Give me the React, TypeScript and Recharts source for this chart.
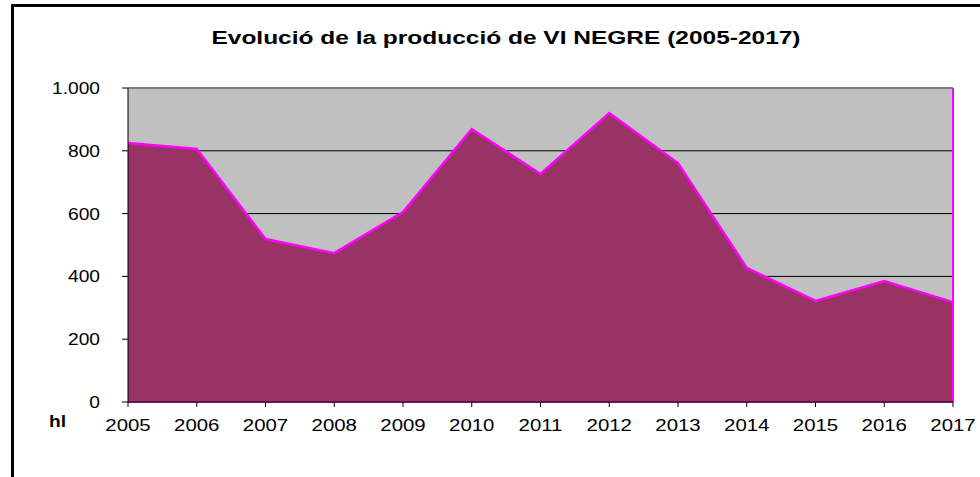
import React from "react"
import { AreaChart, Area, XAxis, YAxis, CartesianGrid, ReferenceLine } from "recharts"

const years = ["2005", "2006", "2007", "2008", "2009", "2010", "2011", "2012", "2013", "2014", "2015", "2016", "2017"]
const production = [825, 806, 519, 474, 605, 869, 726, 920, 761, 427, 322, 385, 318]
const yTicks = [0, 200, 400, 600, 800, 1000]

const chartTitle = "Evolució de la producció de VI NEGRE (2005-2017)"
const unitLabel = "hl"

const font = "'Liberation Sans', Arial, sans-serif"

// the original is stretched horizontally, so text gets scaled in x
const YTick = (props: any) => {
  const { x, y, payload } = props
  const label = payload.value >= 1000 ? payload.value.toLocaleString("de-DE") : String(payload.value)
  return (
    <text
      transform={`translate(${x},${y + 6}) scale(1.2,1)`}
      textAnchor="end"
      fontSize={16}
      fontFamily={font}
      fill="#000"
    >
      {label}
    </text>
  )
}

const XTick = (props: any) => {
  const { x, y, payload } = props
  return (
    <text
      transform={`translate(${x},${y + 22}) scale(1.2,1)`}
      textAnchor="middle"
      fontSize={17}
      fontFamily={font}
      fill="#000"
    >
      {payload.value}
    </text>
  )
}

export default function App() {
  const data = years.map((year, i) => ({ year, value: production[i] }))

  return (
    <div style={{ position: "absolute", left: 0, top: 0, width: 980, height: 477, background: "#fff", overflow: "hidden" }}>
      <div
        style={{
          position: "absolute",
          left: 11,
          top: 4,
          width: 980,
          height: 500,
          borderLeft: "3px solid #000",
          borderTop: "3px solid #000",
        }}
      />
      <div
        style={{
          position: "absolute",
          left: 0,
          width: 1012,
          top: 28,
          textAlign: "center",
          fontFamily: font,
          fontWeight: "bold",
          fontSize: 18,
          transform: "scaleX(1.36)",
          transformOrigin: "506px 0",
        }}
      >
        {chartTitle}
      </div>
      <div
        style={{
          position: "absolute",
          left: 49,
          top: 413,
          fontFamily: font,
          fontWeight: "bold",
          fontSize: 16,
          transform: "scaleX(1.2)",
          transformOrigin: "0 0",
        }}
      >
        {unitLabel}
      </div>
      <div style={{ position: "absolute", left: 0, top: 0 }}>
        <AreaChart width={980} height={477} data={data} margin={{ top: 88, right: 27, bottom: 45, left: 68 }}>
          <CartesianGrid vertical={false} stroke="#000" fill="#C0C0C0" fillOpacity={1} />
          <XAxis
            dataKey="year"
            height={30}
            tick={<XTick />}
            tickLine={{ stroke: "#000" }}
            axisLine={{ stroke: "#000" }}
            tickSize={5}
            tickMargin={2}
            interval={0}
          />
          <YAxis
            width={60}
            domain={[0, 1000]}
            ticks={yTicks}
            tick={<YTick />}
            tickLine={{ stroke: "#000" }}
            axisLine={{ stroke: "#000" }}
            tickSize={6}
            tickMargin={22}
            interval={0}
          />
          <ReferenceLine y={1000} stroke="#808080" strokeWidth={2} />
          <ReferenceLine x="2017" stroke="#808080" strokeWidth={2} />
          <Area
            type="linear"
            dataKey="value"
            stroke="#FF00FF"
            strokeWidth={2.5}
            fill="#993366"
            fillOpacity={1}
            isAnimationActive={false}
          />
          <ReferenceLine x="2017" stroke="#FF00FF" strokeWidth={2} />
          <ReferenceLine y={0} stroke="#FF00FF" strokeWidth={1} />
        </AreaChart>
      </div>
    </div>
  )
}
